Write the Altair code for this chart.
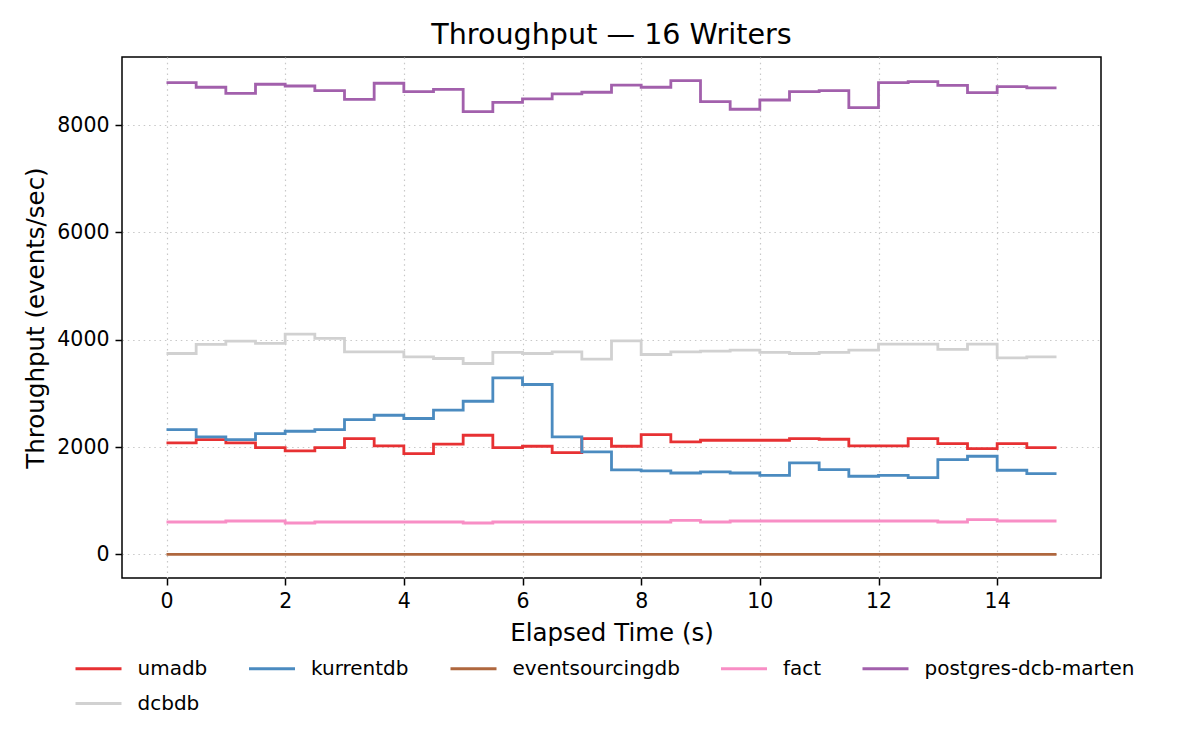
import altair as alt
import pandas as pd

times = [0, 0.5, 1, 1.5, 2, 2.5, 3, 3.5, 4, 4.5, 5, 5.5, 6, 6.5, 7, 7.5,
         8, 8.5, 9, 9.5, 10, 10.5, 11, 11.5, 12, 12.5, 13, 13.5, 14, 14.5, 15]

umadb = [2076, 2139, 2076, 1990, 1927, 1990, 2158, 2020, 1878, 2052, 2219, 1990, 2014, 1897, 2158, 2014,
         2232, 2095, 2126, 2126, 2126, 2158, 2145, 2020, 2020, 2158, 2064, 1971, 2064, 1990, 1990]
dcbdb = [3743, 3911, 3972, 3930, 4103, 4023, 3773, 3773, 3680, 3649, 3556, 3762, 3743, 3773, 3637, 3978,
         3724, 3773, 3786, 3805, 3762, 3743, 3762, 3805, 3917, 3917, 3818, 3917, 3661, 3680, 3680]
kurrentdb = [2325, 2188, 2139, 2251, 2294, 2325, 2512, 2592, 2531, 2686, 2853, 3288, 3165, 2188, 1908, 1575,
             1554, 1516, 1535, 1516, 1473, 1703, 1580, 1455, 1473, 1430, 1766, 1828, 1567, 1505, 1505]
eventsourcingdb = [0, 0, 0, 0, 0, 0, 0, 0, 0, 0, 0, 0, 0, 0, 0, 0,
                   0, 0, 0, 0, 0, 0, 0, 0, 0, 0, 0, 0, 0, 0, 0]
fact = [603, 603, 621, 621, 584, 603, 603, 603, 603, 603, 584, 603, 603, 603, 603, 603,
        603, 634, 603, 621, 621, 621, 621, 621, 621, 621, 603, 647, 621, 621, 621]
postgres_dcb_marten = [8790, 8704, 8592, 8760, 8728, 8641, 8480, 8779, 8622, 8666, 8249, 8424, 8486, 8579, 8611, 8745,
                       8704, 8827, 8436, 8294, 8467, 8622, 8641, 8324, 8790, 8808, 8741, 8604, 8716, 8691, 8691]

series_names = ["umadb", "dcbdb", "kurrentdb", "eventsourcingdb", "fact", "postgres-dcb-marten"]
series_values = [umadb, dcbdb, kurrentdb, eventsourcingdb, fact, postgres_dcb_marten]

legend_order = ["umadb", "kurrentdb", "eventsourcingdb", "fact", "postgres-dcb-marten", "dcbdb"]
legend_colors = ["#e73133", "#4b8bc0", "#af673e", "#f88ec5", "#a260ac", "#d1d1d1"]

x_ticks = [0, 2, 4, 6, 8, 10, 12, 14]
y_ticks = [0, 2000, 4000, 6000, 8000]

rows = []
for order_idx, (name, vals) in enumerate(zip(series_names, series_values)):
    for t, v in zip(times, vals):
        rows.append({"t": t, "v": v, "series": name, "k": order_idx})
df = pd.DataFrame(rows)

FONT = "DejaVu Sans"

chart = alt.Chart(df).mark_line(interpolate="step-after", strokeWidth=2.8).encode(
    x=alt.X("t:Q",
            scale=alt.Scale(domain=[-0.75, 15.75], nice=False, zero=False),
            axis=alt.Axis(values=x_ticks, title="Elapsed Time (s)", titlePadding=10)),
    y=alt.Y("v:Q",
            scale=alt.Scale(domain=[-441, 9268], nice=False, zero=False),
            axis=alt.Axis(values=y_ticks, format="d", title="Throughput (events/sec)", titlePadding=8)),
    color=alt.Color("series:N",
                    scale=alt.Scale(domain=legend_order, range=legend_colors),
                    legend=alt.Legend(title=None, orient="none", legendX=-48, legendY=587,
                                      direction="horizontal",
                                      columns=5, symbolType="stroke", symbolSize=2116,
                                      symbolStrokeWidth=3, labelFontSize=20, labelFont=FONT,
                                      labelColor="black", labelOffset=14.5, columnPadding=34.5,
                                      rowPadding=-3, labelLimit=400)),
    detail="k:O",
).properties(
    width=979,
    height=521,
    autosize=alt.AutoSizeParams(type="none"),
    padding={"left": 114, "top": 49, "right": 91, "bottom": 164},
    title=alt.TitleParams("Throughput — 16 Writers", fontSize=28.6, fontWeight="normal",
                          font=FONT, color="black", offset=7, anchor="middle"),
).configure_view(
    stroke="black", strokeWidth=1.5
).configure_axis(
    labelFont=FONT, titleFont=FONT, labelFontSize=20.5, titleFontSize=24.5,
    titleFontWeight="normal", labelColor="black", titleColor="black",
    tickColor="black", tickWidth=1.5, tickSize=7, labelPadding=6,
    domain=False, gridColor="#c8c8c8", gridDash=[1.5, 3.8], gridWidth=1.2, gridOpacity=1,
)

chart.save("out.html", embed_options={"renderer": "svg", "actions": False})
